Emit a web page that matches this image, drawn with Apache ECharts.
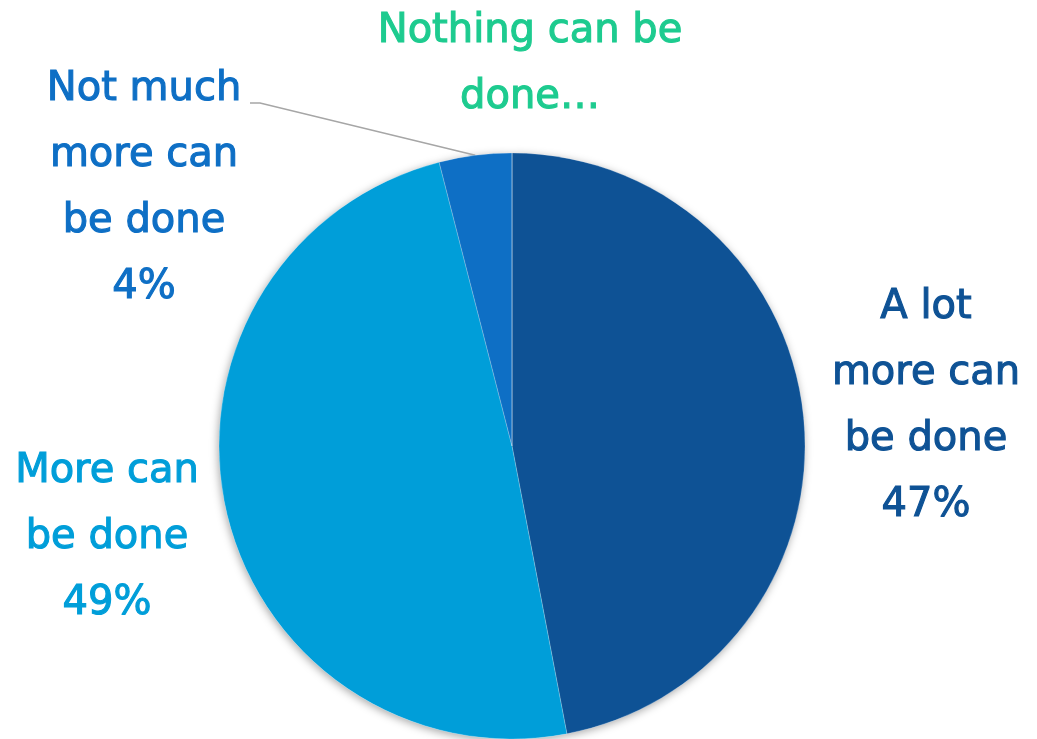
<!DOCTYPE html>
<html>
<head>
<meta charset="utf-8">
<script src="https://cdn.jsdelivr.net/npm/echarts@6/dist/echarts.min.js"></script>
<style>
  html, body { margin: 0; padding: 0; background: #fff; }
  #chart { width: 1037px; height: 739px; }
</style>
</head>
<body>
<div id="chart"></div>
<script>
// Survey answers, clockwise from 12 o'clock
const categories = ['A lot more can be done', 'More can be done', 'Not much more can be done', 'Nothing can be done'];
const wrappedNames = ['A lot\nmore can\nbe done', 'More can\nbe done', 'Not much\nmore can\nbe done', 'Nothing can be\ndone\u2026'];
const shares = [47, 49, 4, 0];
const showPercent = [true, true, true, false];
const colors = ['#0E5295', '#009ED9', '#0E6FC5', '#1DCB8F'];

// Where each label block sits (centre of the block)
const labelSpots = [[926, 407], [107, 538], [144, 189], [530, 65]];
const showLeader = [false, false, true, false];

const chart = echarts.init(document.getElementById('chart'), null, { renderer: 'canvas' });

const pieCenter = [512, 446];
const pieRadius = 293;

const data = categories.map((name, i) => ({
  name: name,
  value: shares[i],
  itemStyle: { color: colors[i] },
  label: { color: colors[i], textBorderColor: colors[i] },
  labelLine: { show: showLeader[i] }
}));

chart.setOption({
  animation: false,
  series: [
    {
      // soft drop shadow under the whole pie
      type: 'pie',
      silent: true,
      z: 1,
      center: pieCenter,
      radius: pieRadius,
      startAngle: 90,
      clockwise: true,
      label: { show: false },
      labelLine: { show: false },
      itemStyle: {
        color: '#ffffff',
        shadowBlur: 8,
        shadowOffsetX: -1,
        shadowOffsetY: 2,
        shadowColor: 'rgba(0,0,0,0.35)'
      },
      data: shares.map((v, i) => ({ name: categories[i], value: v }))
    },
    {
      type: 'pie',
      z: 2,
      center: pieCenter,
      radius: pieRadius,
      startAngle: 90,
      clockwise: true,
      avoidLabelOverlap: false,
      stillShowZeroSum: true,
      minShowLabelAngle: 0,
      itemStyle: { borderColor: 'rgba(255,255,255,0.35)', borderWidth: 0.6 },
      label: {
        show: true,
        position: 'outside',
        fontFamily: 'DejaVu Sans',
        fontSize: 40,
        lineHeight: 66,
        align: 'center',
        textBorderWidth: 1.1,
        formatter: p => showPercent[p.dataIndex]
          ? wrappedNames[p.dataIndex] + '\n' + p.value + '%'
          : wrappedNames[p.dataIndex]
      },
      labelLine: {
        lineStyle: { color: '#A6A6A6', width: 1.5 }
      },
      labelLayout: params => {
        const i = params.dataIndex;
        const spot = labelSpots[i];
        const out = { x: spot[0], y: spot[1], align: 'center', verticalAlign: 'middle' };
        if (showLeader[i] && params.labelLinePoints) {
          // run from the slice edge up to the end of the first label line
          const anchor = params.labelLinePoints[0];
          const top = spot[1] - params.labelRect.height / 2;
          const ly = top + 66 / 2 + 13;
          out.labelLinePoints = [anchor, [spot[0] + 116, ly], [spot[0] + 106, ly]];
        }
        return out;
      },
      data: data
    }
  ]
});
</script>
</body>
</html>
